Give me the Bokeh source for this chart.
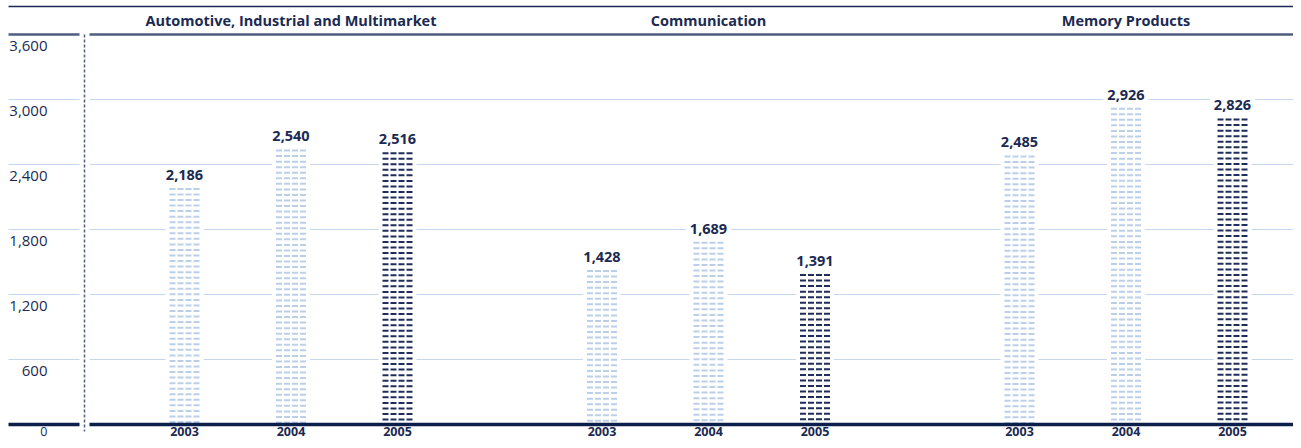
from bokeh.plotting import figure
from bokeh.models import Range1d, ColumnDataSource
from bokeh.core.properties import value
from bokeh.embed import file_html
from bokeh.resources import INLINE

# ---------------- data ----------------
segments = ["Automotive, Industrial and Multimarket", "Communication", "Memory Products"]
years = ["2003", "2004", "2005"]
sales_2003 = [2186, 1428, 2485]
sales_2004 = [2540, 1689, 2926]
sales_2005 = [2516, 1391, 2826]
y_ticks = [0, 600, 1200, 1800, 2400, 3000, 3600]
y_tick_labels = ["0", "600", "1,200", "1,800", "2,400", "3,000", "3,600"]

# ---------------- layout (figure pixels) ----------------
W, H = 1293, 440
Y0_PX = 424       # pixel y of value 0
YMAX_PX = 34      # pixel y of value 3600
K = (Y0_PX - YMAX_PX) / 3600.0   # px per unit


def ydata(pix_y):
    return (Y0_PX - pix_y) / K


def px(n):
    return n / K


FONT = value("Open Sans")
NAVY = "#1b2a52"
LIGHT = "#bccfea"
DARK = "#1e2d5a"
GRID = "#c6d6ec"
SLATE = "#4f5d7f"

p = figure(width=W, height=H, x_range=Range1d(0, W),
           y_range=Range1d(ydata(H), ydata(0)),
           x_axis_type=None, y_axis_type=None,
           output_backend="svg", toolbar_location=None, min_border=0)
p.outline_line_color = None
p.background_fill_color = "white"
p.border_fill_color = "white"

X_LEFT, X_AXIS_END, X_PLOT_START, X_RIGHT = 8, 79, 89, W
DASH_X = 84

# top rule
p.segment(x0=[X_LEFT], x1=[X_RIGHT], y0=[ydata(6)], y1=[ydata(6)],
          line_color=NAVY, line_width=1.5)

# grid lines
grid_vals = [t for t in y_ticks if 0 < t < 3600]
gx0 = [X_LEFT] * len(grid_vals) + [X_PLOT_START] * len(grid_vals)
gx1 = [X_AXIS_END] * len(grid_vals) + [X_RIGHT] * len(grid_vals)
gy = grid_vals + grid_vals
p.segment(x0=gx0, x1=gx1, y0=gy, y1=gy, line_color=GRID, line_width=1)

# top (3600) rule
top_val = y_ticks[-1]
p.segment(x0=[X_LEFT, X_PLOT_START], x1=[X_AXIS_END, X_RIGHT],
          y0=[top_val, top_val], y1=[top_val, top_val],
          line_color=SLATE, line_width=2.5)

# dashed separator
p.segment(x0=[DASH_X], x1=[DASH_X], y0=[top_val], y1=[ydata(431)],
          line_color=SLATE, line_width=1.5, line_dash="3 2")

# y tick labels
tick_y = [t - px(11) for t in y_ticks[1:]]
p.text(x=[47] * len(tick_y), y=tick_y, text=y_tick_labels[1:],
       text_align="right", text_baseline="middle", text_font=FONT,
       text_font_size="15px", text_color=NAVY)
p.text(x=[47], y=[ydata(431)], text=y_tick_labels[:1],
       text_align="right", text_baseline="middle", text_font=FONT,
       text_font_size="12.5px", text_color=NAVY)

# bars
series = [sales_2003, sales_2004, sales_2005]
colors = [LIGHT, LIGHT, DARK]
GROUP_X0, GROUP_STEP, BAR_STEP = 184, 417.5, 106.5
BAR_W = 30
ROW_STEP = 5.55

bx, bv, lx, ly, ltxt = [], [], [], [], []
rows = {LIGHT: dict(x0=[], x1=[], y=[]), DARK: dict(x0=[], x1=[], y=[])}
for g in range(len(segments)):
    for i, yr in enumerate(years):
        cx = GROUP_X0 + g * GROUP_STEP + i * BAR_STEP
        v = series[i][g]
        bx.append(cx)
        bv.append(v)
        c = colors[i]
        yy = v - px(1.2)
        while yy > px(1):
            rows[c]["x0"].append(cx - BAR_W / 2)
            rows[c]["x1"].append(cx + BAR_W / 2)
            rows[c]["y"].append(yy)
            yy -= px(ROW_STEP)
        lx.append(cx)
        ly.append(v + px(4))
        ltxt.append(f"{v:,}")

# white backing (gaps in gridlines)
p.quad(left=[x - 19 for x in bx], right=[x + 19 for x in bx],
       bottom=[0] * len(bx), top=bv, fill_color="white", line_color=None)

for c, d in rows.items():
    src = ColumnDataSource(d)
    p.segment(x0="x0", x1="x1", y0="y", y1="y", source=src,
              line_color=c, line_width=2, line_dash="6 2", line_cap="butt")

# value labels
p.text(x=lx, y=ly, text=ltxt, text_align="center", text_baseline="bottom",
       text_font=FONT, text_font_size="14.5px", text_font_style="bold",
       text_color=NAVY, background_fill_color="white", padding=4)

# baseline
p.segment(x0=[X_LEFT, X_PLOT_START], x1=[X_AXIS_END, X_RIGHT], y0=[0, 0], y1=[0, 0],
          line_color="#0b1f4b", line_width=3.5)

# year labels
p.text(x=bx, y=[ydata(431)] * len(bx), text=years * len(segments),
       text_align="center", text_baseline="middle", text_font=FONT,
       text_font_size="12.5px", text_font_style="bold", text_color=NAVY)

# segment headers
hx = [GROUP_X0 + g * GROUP_STEP + BAR_STEP for g in range(len(segments))]
p.text(x=hx, y=[ydata(20)] * len(segments), text=segments, text_align="center",
       text_baseline="middle", text_font=FONT, text_font_size="14.5px",
       text_font_style="bold", text_color=NAVY)

open("out.html", "w").write(file_html(p, INLINE))
